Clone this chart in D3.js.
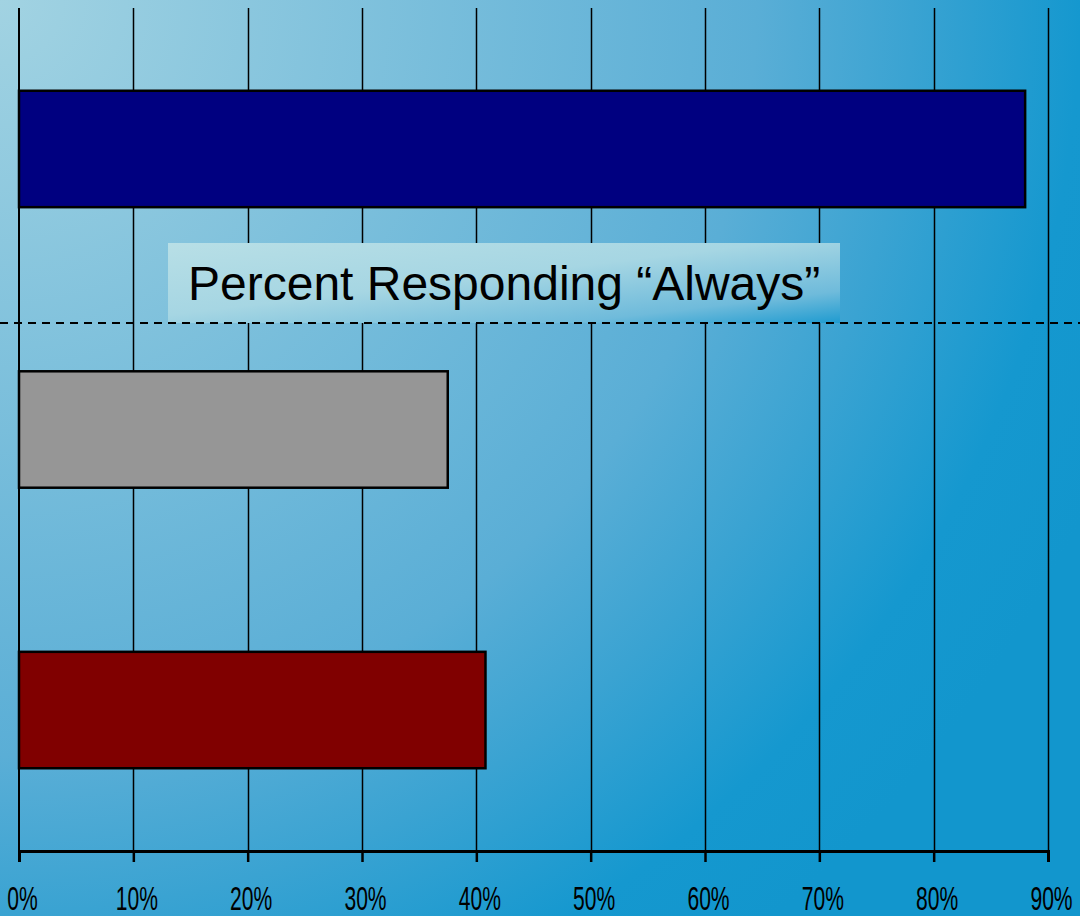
<!DOCTYPE html>
<html>
<head>
<meta charset="utf-8">
<script src="https://cdn.jsdelivr.net/npm/d3@7"></script>
<style>
  html, body { margin: 0; padding: 0; }
  svg { display: block; }
</style>
</head>
<body>
<svg id="chart" width="1080" height="916"></svg>
<script>
const categories = ["top", "middle", "bottom"];
const values = [88, 37.5, 40.8];
const barColors = ["#000080", "#969696", "#800000"];
const tickValues = [0, 10, 20, 30, 40, 50, 60, 70, 80, 90];
const tickLabels = ["0%", "10%", "20%", "30%", "40%", "50%", "60%", "70%", "80%", "90%"];
const title = "Percent Responding \u201CAlways\u201D";

const width = 1080;
const height = 916;
const svg = d3.select("#chart");

// background
const defs = svg.append("defs");
const bg = defs.append("radialGradient")
  .attr("id", "bg")
  .attr("gradientUnits", "userSpaceOnUse")
  .attr("cx", 0).attr("cy", 0).attr("r", 1200);
[[0, "#a2d3e2"], [0.63, "#5aaed6"], [0.76, "#3aa3d2"], [0.9, "#1598cf"], [1, "#1296cd"]]
  .forEach(s => bg.append("stop").attr("offset", s[0]).attr("stop-color", s[1]));

const boxGrad = defs.append("linearGradient")
  .attr("id", "box")
  .attr("x1", 0).attr("y1", 0).attr("x2", 1).attr("y2", 1);
[[0, "#b8dfe6"], [0.45, "#a6d6e3"], [0.8, "#6fbbdb"], [1, "#1f9bd0"]]
  .forEach(s => boxGrad.append("stop").attr("offset", s[0]).attr("stop-color", s[1]));

svg.append("rect").attr("width", width).attr("height", height).attr("fill", "url(#bg)");

const x = d3.scaleLinear().domain([0, 90]).range([19, 1048]);
const y = d3.scaleBand().domain(categories).range([8, 851]).paddingInner(0.585).paddingOuter(0.295);

// vertical grid
svg.append("g")
  .selectAll("line")
  .data(tickValues.slice(1))
  .join("line")
  .attr("x1", d => Math.round(x(d)) + 0.5)
  .attr("x2", d => Math.round(x(d)) + 0.5)
  .attr("y1", 8).attr("y2", 851)
  .attr("stroke", "#000").attr("stroke-width", 1.5);

svg.append("line")
  .attr("x1", 19).attr("x2", 19).attr("y1", 8).attr("y2", 851)
  .attr("stroke", "#000").attr("stroke-width", 2);

// bars
svg.append("g")
  .selectAll("rect")
  .data(categories)
  .join("rect")
  .attr("x", x(0))
  .attr("y", d => y(d))
  .attr("width", (d, i) => x(values[i]) - x(0))
  .attr("height", y.bandwidth())
  .attr("fill", (d, i) => barColors[i])
  .attr("stroke", "#000")
  .attr("stroke-width", 2.5);

// title box
svg.append("rect")
  .attr("x", 168).attr("y", 243).attr("width", 672).attr("height", 80)
  .attr("fill", "url(#box)");

svg.append("text")
  .attr("x", 188).attr("y", 300)
  .attr("font-family", "Liberation Sans, Arial, sans-serif")
  .attr("font-size", 48)
  .attr("fill", "#000")
  .text(title);

// dashed separator
svg.append("line")
  .attr("x1", 0).attr("x2", width).attr("y1", 323).attr("y2", 323)
  .attr("stroke", "#000").attr("stroke-width", 2)
  .attr("stroke-dasharray", "8,6");

// x axis
const axis = svg.append("g").attr("transform", "translate(0,851)")
  .call(d3.axisBottom(x).tickValues(tickValues).tickSize(11).tickFormat((d, i) => tickLabels[i]));
axis.select(".domain").attr("stroke", "#000").attr("stroke-width", 3);
axis.selectAll(".tick line").attr("stroke", "#000").attr("stroke-width", 2.5);
axis.selectAll(".tick text")
  .attr("fill", "#000")
  .attr("font-family", "Liberation Sans Narrow, Arial Narrow, sans-serif")
  .attr("font-size", 34)
  .attr("x", 0)
  .attr("y", 0)
  .attr("dy", 0)
  .attr("transform", "translate(3,59) scale(0.62,1)");
</script>
</body>
</html>
